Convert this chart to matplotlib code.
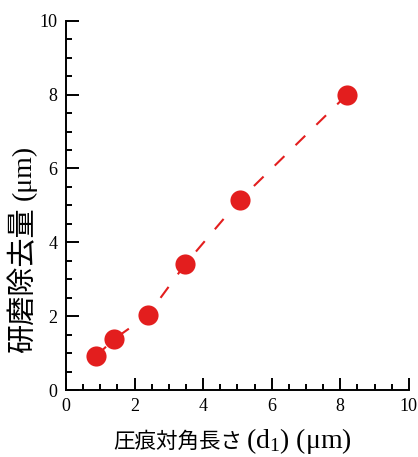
import matplotlib

matplotlib.use("Agg")
import matplotlib.pyplot as plt
from matplotlib.ticker import MultipleLocator

# data
indent_diag = [0.88, 1.39, 2.38, 3.48, 5.07, 8.19]   # d1 (um)
removal = [0.92, 1.37, 2.02, 3.41, 5.15, 7.99]       # polishing removal (um)

x_label_jp, x_label_unit = "圧痕対角長さ", "(d$_1$) (μm)"
y_label_jp, y_label_unit = "研磨除去量", "(μm)"

plt.rcParams["font.family"] = ["Liberation Serif", "Noto Sans CJK JP"]
plt.rcParams["mathtext.fontset"] = "custom"
plt.rcParams["mathtext.rm"] = "Liberation Serif"
plt.rcParams["mathtext.it"] = "Liberation Serif:italic"

red = "#e31e1e"
jp_font = "Noto Sans CJK JP"

fig = plt.figure(figsize=(4.18, 4.57), dpi=100)
ax = fig.add_axes([0.158, 0.1466, 0.820, 0.808])

ax.plot(indent_diag, removal, linestyle=(0, (6.5, 7.5)), color=red, linewidth=1.5,
        marker="o", markersize=14.5, markerfacecolor=red, markeredgewidth=0,
        clip_on=False, zorder=3)

ax.set_xlim(0, 10)
ax.set_ylim(0, 10)
ax.xaxis.set_major_locator(MultipleLocator(2))
ax.xaxis.set_minor_locator(MultipleLocator(0.5))
ax.yaxis.set_major_locator(MultipleLocator(2))
ax.yaxis.set_minor_locator(MultipleLocator(0.5))

for side in ("top", "right"):
    ax.spines[side].set_visible(False)
for side in ("left", "bottom"):
    ax.spines[side].set_linewidth(1.4)

ax.tick_params(which="major", direction="in", length=9, width=1.4,
               labelsize=13, pad=6)
ax.tick_params(which="minor", direction="in", length=4.5, width=1.4)

# axis labels: Japanese in sans, units in serif, laid out in pixel positions
px = fig.dpi_scale_trans
renderer = fig.canvas.get_renderer()

tx = fig.text(113 / 100, 9 / 100, x_label_jp, family=jp_font, fontsize=15.5,
              ha="left", va="baseline", transform=px)
bb = tx.get_window_extent(renderer)
fig.text((bb.x1 + 4) / 100, 9 / 100, x_label_unit, fontsize=20,
         ha="left", va="baseline", transform=px)

ty = fig.text(31 / 100, 104 / 100, y_label_jp, family=jp_font, fontsize=21,
              rotation=90, rotation_mode="anchor", ha="left", va="baseline",
              transform=px)
bb = ty.get_window_extent(renderer)
fig.text(31 / 100, (bb.y1 + 7) / 100, y_label_unit, fontsize=20,
         rotation=90, rotation_mode="anchor", ha="left", va="baseline",
         transform=px)

fig.savefig("out.png", dpi=100)
